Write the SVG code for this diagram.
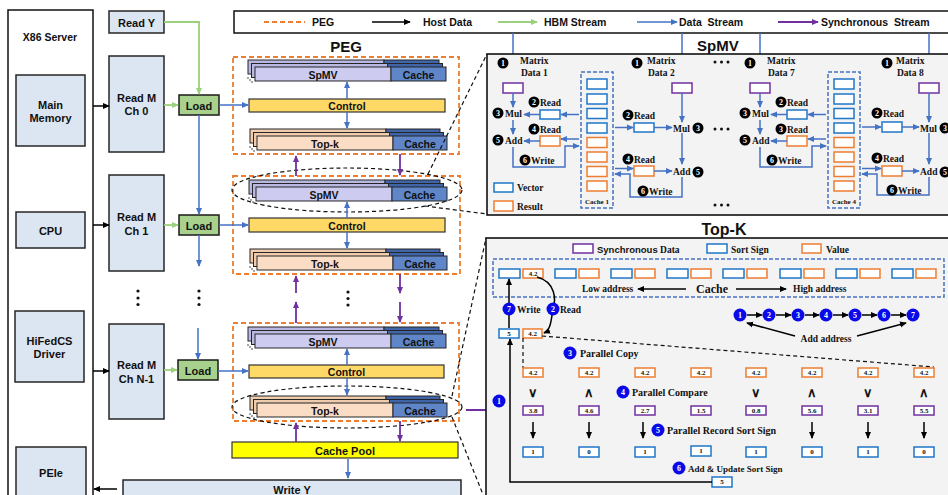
<svg xmlns="http://www.w3.org/2000/svg" width="948" height="495" viewBox="0 0 948 495">
  <defs>
    <style>
      .sans{font-family:"Liberation Sans",Arial,sans-serif;font-weight:bold;fill:#111}
      .ser{font-family:"Liberation Serif","Times New Roman",serif;font-weight:bold;fill:#111}
      .c{text-anchor:middle;dominant-baseline:central}
      .box{fill:#DCE6F2;stroke:#262626;stroke-width:1.5}
      .load{fill:#A9D18E;stroke:#1a1a1a;stroke-width:1.5}
      .peg{fill:none;stroke:#ED7D31;stroke-width:1.8;stroke-dasharray:5 3}
      .sp{fill:#CDCCF0;stroke:#262626;stroke-width:1}
      .spb{fill:#B9B8E2;stroke:#262626;stroke-width:1}
      .tk{fill:#FBDDC5;stroke:#262626;stroke-width:1}
      .tkb{fill:#F0CCAF;stroke:#262626;stroke-width:1}
      .ca{fill:#5F86C8;stroke:#262626;stroke-width:1}
      .cab{fill:#3F64A8;stroke:#262626;stroke-width:1}
      .ctrl{fill:#FFD966;stroke:#333;stroke-width:1.2}
      .pool{fill:#FFFF00;stroke:#333;stroke-width:1.2}
      .hd{stroke:#000;stroke-width:1.5;fill:none}
      .hbm{stroke:#9BD17B;stroke-width:1.8;fill:none}
      .ds{stroke:#4472C4;stroke-width:1.5;fill:none}
      .sy{stroke:#7030A0;stroke-width:1.8;fill:none}
      .dl{stroke:#111;stroke-width:1.2;fill:none;stroke-dasharray:4 3}
      .rb{fill:#fff;stroke:#1F77C8;stroke-width:1.5}
      .ro{fill:#fff;stroke:#ED7D31;stroke-width:1.5}
      .rp{fill:#fff;stroke:#7030A0;stroke-width:1.5}
      .cdash{fill:none;stroke:#4472C4;stroke-width:1.5;stroke-dasharray:4 2}
      .k{fill:#000}
      .bl{fill:#0A0AE8}
      .kn{font-family:"Liberation Serif",serif;font-weight:bold;font-size:8px;fill:#fff;text-anchor:middle;dominant-baseline:central}
      .st{font-family:"Liberation Serif","Times New Roman",serif;font-weight:bold;font-size:9.5px;fill:#111}
      .vt{font-family:"Liberation Serif","Times New Roman",serif;font-weight:bold;font-size:7px;fill:#111;text-anchor:middle;dominant-baseline:central}
      .panel{fill:#F3F3F3;stroke:#111;stroke-width:1.6}
    </style>
    <marker id="ak" viewBox="0 0 8 8" refX="7" refY="4" markerWidth="7" markerHeight="7" markerUnits="userSpaceOnUse" orient="auto"><path d="M0,0.5L8,4L0,7.5z" fill="#000"/></marker>
    <marker id="ag" viewBox="0 0 8 8" refX="7" refY="4" markerWidth="7" markerHeight="7" markerUnits="userSpaceOnUse" orient="auto"><path d="M0,0.5L8,4L0,7.5z" fill="#9BD17B"/></marker>
    <marker id="ab" viewBox="0 0 8 8" refX="7" refY="4" markerWidth="7" markerHeight="7" markerUnits="userSpaceOnUse" orient="auto"><path d="M0,0.5L8,4L0,7.5z" fill="#4472C4"/></marker>
    <marker id="ap" viewBox="0 0 8 8" refX="7" refY="4" markerWidth="7" markerHeight="7" markerUnits="userSpaceOnUse" orient="auto"><path d="M0,0.5L8,4L0,7.5z" fill="#7030A0"/></marker>
  </defs>

  <rect width="948" height="495" fill="#fff"/>

  <!-- legend -->
  <g id="legend">
    <rect x="234" y="11" width="720" height="22" fill="#fff" stroke="#111" stroke-width="1.5"/>
    <line class="peg" x1="264" y1="22" x2="305" y2="22"/>
    <text class="sans" x="312" y="25.5" font-size="10.5">PEG</text>
    <line class="hd" x1="372" y1="22" x2="410" y2="22" marker-end="url(#ak)"/>
    <text class="sans" x="423" y="25.5" font-size="10.5">Host Data</text>
    <line class="hbm" x1="498" y1="22" x2="537" y2="22" marker-end="url(#ag)"/>
    <text class="sans" x="544" y="25.5" font-size="10.5">HBM Stream</text>
    <line class="ds" x1="637" y1="22" x2="677" y2="22" marker-end="url(#ab)"/>
    <text class="sans" x="679" y="25.5" font-size="10.5" xml:space="preserve">Data  Stream</text>
    <line class="sy" x1="778" y1="22" x2="818" y2="22" marker-end="url(#ap)"/>
    <text class="sans" x="821" y="25.5" font-size="10.5" xml:space="preserve">Synchronous  Stream</text>
  </g>

  <!-- host side -->
  <g id="x86">
    <rect x="8" y="10" width="85" height="500" fill="#fff" stroke="#111" stroke-width="1.5"/>
    <text class="sans c" x="50" y="37" font-size="10.5">X86 Server</text>
  </g>
  <g id="main-memory">
    <rect class="box" x="16" y="75" width="69" height="71"/>
    <text class="sans c" x="50.5" y="104.5" font-size="11">Main</text>
    <text class="sans c" x="50.5" y="118" font-size="11">Memory</text>
  </g>
  <g id="cpu">
    <rect class="box" x="16" y="212" width="69" height="36"/>
    <text class="sans c" x="50.5" y="231" font-size="11">CPU</text>
  </g>
  <g id="driver">
    <rect class="box" x="15" y="311" width="69" height="71"/>
    <text class="sans c" x="49.5" y="341" font-size="11">HiFedCS</text>
    <text class="sans c" x="49.5" y="354" font-size="11">Driver</text>
  </g>
  <g id="peie">
    <rect class="box" x="16" y="447" width="70" height="60"/>
    <text class="sans c" x="51" y="473" font-size="11">PEIe</text>
  </g>

  <g id="read-y">
    <rect class="box" x="109" y="11" width="55" height="22"/>
    <text class="sans c" x="136.5" y="22.5" font-size="11">Read Y</text>
  </g>
  <g id="read-m0">
    <rect class="box" x="109" y="56" width="55" height="96"/>
    <text class="sans c" x="136.5" y="98" font-size="11">Read M</text>
    <text class="sans c" x="136.5" y="111" font-size="11">Ch 0</text>
  </g>
  <g id="read-m1">
    <rect class="box" x="109" y="175" width="55" height="96"/>
    <text class="sans c" x="136.5" y="217" font-size="11">Read M</text>
    <text class="sans c" x="136.5" y="231" font-size="11">Ch 1</text>
  </g>
  <g id="read-mn">
    <rect class="box" x="109" y="324" width="55" height="95"/>
    <text class="sans c" x="136.5" y="365" font-size="11">Read M</text>
    <text class="sans c" x="136.5" y="379" font-size="11">Ch N-1</text>
  </g>
  <g id="dots-left" fill="#111">
    <circle cx="138" cy="291" r="1.6"/><circle cx="138" cy="298" r="1.6"/><circle cx="138" cy="304.5" r="1.6"/>
    <circle cx="199" cy="291" r="1.6"/><circle cx="199" cy="298" r="1.6"/><circle cx="199" cy="304.5" r="1.6"/>
    <circle cx="348" cy="292" r="1.6"/><circle cx="348" cy="298.5" r="1.6"/><circle cx="348" cy="305" r="1.6"/>
  </g>

  <g id="load0"><rect class="load" x="179" y="95" width="40" height="20"/><text class="sans c" x="199" y="105.5" font-size="11">Load</text></g>
  <g id="load1"><rect class="load" x="179" y="215" width="40" height="20"/><text class="sans c" x="199" y="225.5" font-size="11">Load</text></g>
  <g id="loadn"><rect class="load" x="178" y="360" width="40" height="20"/><text class="sans c" x="198" y="370.5" font-size="11">Load</text></g>

  <!-- PEG 1 -->
  <g id="peg1">
    <text class="sans" x="346" y="52" font-size="15" text-anchor="middle">PEG</text>
    <rect class="peg" x="233" y="57" width="226" height="97"/>
    <rect class="spb" x="248" y="60" width="136" height="14"/><rect class="cab" x="384" y="60" width="55" height="14"/>
    <rect class="spb" x="251.5" y="63.5" width="136" height="14"/><rect class="cab" x="387.5" y="63.5" width="55" height="14"/>
    <rect class="sp" x="255" y="67" width="136" height="14"/><rect class="ca" x="391" y="67" width="55" height="14"/>
    <text class="sans c" x="323" y="74.5" font-size="10.5">SpMV</text>
    <text class="sans c" x="418.5" y="74.5" font-size="10.5">Cache</text>
    <rect class="ctrl" x="249" y="99" width="196" height="13"/>
    <text class="sans c" x="347" y="106" font-size="10.5">Control</text>
    <rect class="tkb" x="250" y="129" width="136" height="14"/><rect class="cab" x="386" y="129" width="54" height="14"/>
    <rect class="tkb" x="253.5" y="132.5" width="136" height="14"/><rect class="cab" x="389.5" y="132.5" width="54" height="14"/>
    <rect class="tk" x="257" y="136" width="136" height="14"/><rect class="ca" x="393" y="136" width="54" height="14"/>
    <text class="sans c" x="325" y="143.5" font-size="10.5">Top-k</text>
    <text class="sans c" x="420" y="143.5" font-size="10.5">Cache</text>
    <g fill="#333"><circle cx="248" cy="78" r="0.8"/><circle cx="250" cy="80" r="0.8"/><circle cx="252" cy="82" r="0.8"/>
    <circle cx="250" cy="147" r="0.8"/><circle cx="252" cy="149" r="0.8"/><circle cx="254" cy="151" r="0.8"/></g>
  </g>

  <!-- PEG 2 -->
  <g id="peg2">
    <rect class="peg" x="233" y="176" width="227" height="98"/>
    <rect class="spb" x="249" y="180" width="136" height="14"/><rect class="cab" x="385" y="180" width="55" height="14"/>
    <rect class="spb" x="252.5" y="183.5" width="136" height="14"/><rect class="cab" x="388.5" y="183.5" width="55" height="14"/>
    <rect class="sp" x="256" y="187" width="136" height="14"/><rect class="ca" x="392" y="187" width="55" height="14"/>
    <text class="sans c" x="324" y="194.5" font-size="10.5">SpMV</text>
    <text class="sans c" x="419.5" y="194.5" font-size="10.5">Cache</text>
    <rect class="ctrl" x="249" y="218" width="196" height="14"/>
    <text class="sans c" x="347" y="225.5" font-size="10.5">Control</text>
    <rect class="tkb" x="250" y="249" width="136" height="14"/><rect class="cab" x="386" y="249" width="54" height="14"/>
    <rect class="tkb" x="253.5" y="252.5" width="136" height="14"/><rect class="cab" x="389.5" y="252.5" width="54" height="14"/>
    <rect class="tk" x="257" y="256" width="136" height="14"/><rect class="ca" x="393" y="256" width="54" height="14"/>
    <text class="sans c" x="325" y="263.5" font-size="10.5">Top-k</text>
    <text class="sans c" x="420" y="263.5" font-size="10.5">Cache</text>
    <g fill="#333"><circle cx="249" cy="198" r="0.8"/><circle cx="251" cy="200" r="0.8"/><circle cx="253" cy="202" r="0.8"/>
    <circle cx="250" cy="267" r="0.8"/><circle cx="252" cy="269" r="0.8"/><circle cx="254" cy="271" r="0.8"/></g>
    <ellipse cx="347" cy="190" rx="115" ry="22" class="dl"/>
  </g>

  <!-- PEG N -->
  <g id="peg3">
    <rect class="peg" x="233" y="323" width="226" height="98"/>
    <rect class="spb" x="248" y="327" width="136" height="14"/><rect class="cab" x="384" y="327" width="55" height="14"/>
    <rect class="spb" x="251.5" y="330.5" width="136" height="14"/><rect class="cab" x="387.5" y="330.5" width="55" height="14"/>
    <rect class="sp" x="255" y="334" width="136" height="14"/><rect class="ca" x="391" y="334" width="55" height="14"/>
    <text class="sans c" x="323" y="341.5" font-size="10.5">SpMV</text>
    <text class="sans c" x="418.5" y="341.5" font-size="10.5">Cache</text>
    <rect class="ctrl" x="249" y="365" width="195" height="13"/>
    <text class="sans c" x="346.5" y="372" font-size="10.5">Control</text>
    <rect class="tkb" x="250" y="396" width="136" height="14"/><rect class="cab" x="386" y="396" width="54" height="14"/>
    <rect class="tkb" x="253.5" y="399.5" width="136" height="14"/><rect class="cab" x="389.5" y="399.5" width="54" height="14"/>
    <rect class="tk" x="257" y="403" width="136" height="14"/><rect class="ca" x="393" y="403" width="54" height="14"/>
    <text class="sans c" x="325" y="410.5" font-size="10.5">Top-k</text>
    <text class="sans c" x="420" y="410.5" font-size="10.5">Cache</text>
    <g fill="#333"><circle cx="248" cy="345" r="0.8"/><circle cx="250" cy="347" r="0.8"/><circle cx="252" cy="349" r="0.8"/>
    <circle cx="250" cy="414" r="0.8"/><circle cx="252" cy="416" r="0.8"/><circle cx="254" cy="418" r="0.8"/></g>
    <ellipse cx="347" cy="407" rx="115" ry="21" class="dl"/>
  </g>

  <g id="cache-pool">
    <rect class="pool" x="232" y="442" width="226" height="16"/>
    <text class="sans c" x="345" y="450.5" font-size="11">Cache Pool</text>
  </g>
  <g id="write-y">
    <rect class="box" x="123" y="480" width="338" height="30"/>
    <text class="sans c" x="292" y="490" font-size="11">Write Y</text>
  </g>

  <!-- connectors -->
  <g id="connectors">
    <line class="hd" x1="93" y1="106" x2="109" y2="106" marker-end="url(#ak)"/>
    <line class="hd" x1="93" y1="225" x2="109" y2="225" marker-end="url(#ak)"/>
    <line class="hd" x1="93" y1="371" x2="109" y2="371" marker-end="url(#ak)"/>
    <line class="hd" x1="117" y1="489" x2="94" y2="489" marker-end="url(#ak)"/>
    <path class="hbm" d="M164,22H199V94" marker-end="url(#ag)"/>
    <line class="hbm" x1="164" y1="105" x2="178" y2="105" marker-end="url(#ag)"/>
    <line class="hbm" x1="164" y1="225" x2="178" y2="225" marker-end="url(#ag)"/>
    <line class="hbm" x1="164" y1="370" x2="177" y2="370" marker-end="url(#ag)"/>
    <line class="ds" x1="199" y1="115" x2="199" y2="214" marker-end="url(#ab)"/>
    <line class="ds" x1="199" y1="235" x2="199" y2="266" marker-end="url(#ab)"/>
    <line class="ds" x1="198" y1="328" x2="198" y2="359" marker-end="url(#ab)"/>
    <line class="ds" x1="219" y1="105" x2="248" y2="105" marker-end="url(#ab)"/>
    <line class="ds" x1="219" y1="225" x2="248" y2="225" marker-end="url(#ab)"/>
    <line class="ds" x1="218" y1="371" x2="248" y2="371" marker-end="url(#ab)"/>
    <line class="ds" x1="347" y1="99" x2="347" y2="82" marker-end="url(#ab)"/>
    <line class="ds" x1="347" y1="112" x2="347" y2="128" marker-end="url(#ab)"/>
    <line class="ds" x1="347" y1="218" x2="347" y2="202" marker-end="url(#ab)"/>
    <line class="ds" x1="347" y1="232" x2="347" y2="248" marker-end="url(#ab)"/>
    <line class="ds" x1="347" y1="365" x2="347" y2="349" marker-end="url(#ab)"/>
    <line class="ds" x1="347" y1="378" x2="347" y2="395" marker-end="url(#ab)"/>
    <line class="ds" x1="348" y1="459" x2="348" y2="478" marker-end="url(#ab)"/>
    <line class="sy" x1="296" y1="176" x2="296" y2="156" marker-end="url(#ap)"/>
    <line class="sy" x1="400" y1="154" x2="400" y2="175" marker-end="url(#ap)"/>
    <line class="sy" x1="296" y1="293" x2="296" y2="276" marker-end="url(#ap)"/>
    <line class="sy" x1="400" y1="274" x2="400" y2="293" marker-end="url(#ap)"/>
    <line class="sy" x1="296" y1="323" x2="296" y2="302" marker-end="url(#ap)"/>
    <line class="sy" x1="400" y1="302" x2="400" y2="322" marker-end="url(#ap)"/>
    <line class="sy" x1="296" y1="442" x2="296" y2="423" marker-end="url(#ap)"/>
    <line class="sy" x1="400" y1="421" x2="400" y2="441" marker-end="url(#ap)"/>
    <line class="sy" x1="466" y1="410" x2="521" y2="410" marker-end="url(#ap)"/>
    <line class="dl" x1="428" y1="174" x2="487" y2="54"/>
    <line class="dl" x1="425" y1="206" x2="487" y2="214"/>
    <line class="dl" x1="452" y1="396" x2="486" y2="238"/>
    <line class="dl" x1="452" y1="417" x2="484" y2="497"/>
    <!-- matrix data inputs -->
    <line class="ds" x1="513" y1="33" x2="513" y2="73" marker-end="url(#ab)"/>
    <line class="ds" x1="682" y1="33" x2="682" y2="73" marker-end="url(#ab)"/>
    <line class="ds" x1="760" y1="33" x2="760" y2="73" marker-end="url(#ab)"/>
    <line class="ds" x1="929" y1="33" x2="929" y2="73" marker-end="url(#ab)"/>
  </g>

  <!-- SpMV panel -->
  <g id="spmv-panel">
    <rect class="panel" x="487" y="54" width="470" height="161"/>
    <text class="sans" x="697" y="51" font-size="15">SpMV</text>
    <g fill="#111">
      <circle cx="715" cy="62" r="1.5"/><circle cx="721.5" cy="62" r="1.5"/><circle cx="728" cy="62" r="1.5"/>
      <circle cx="715" cy="129" r="1.5"/><circle cx="721.5" cy="129" r="1.5"/><circle cx="728" cy="129" r="1.5"/>
      <circle cx="715" cy="205" r="1.5"/><circle cx="721.5" cy="205" r="1.5"/><circle cx="728" cy="205" r="1.5"/>
    </g>
    <rect class="rb" x="494" y="183" width="19" height="9"/>
    <text class="st" x="517" y="191">Vector</text>
    <rect class="ro" x="494" y="201" width="19" height="10"/>
    <text class="st" x="517" y="209.5">Result</text>
  </g>

  <g id="spmv-pair1">
    <circle class="k" cx="503" cy="63" r="5.5"/><text class="kn" x="503" y="63.5">1</text>
    <text class="st" x="520" y="64">Matrix</text><text class="st" x="521" y="75.5">Data 1</text>
    <rect class="rp" x="503" y="83" width="20" height="10"/>
    <line class="ds" x1="513" y1="93" x2="513" y2="107" marker-end="url(#ab)"/>
    <circle class="k" cx="498" cy="113" r="5.5"/><text class="kn" x="498" y="113.5">3</text>
    <text class="st" x="505" y="116.5">Mul</text>
    <circle class="k" cx="534" cy="102" r="5.5"/><text class="kn" x="534" y="102.5">2</text>
    <text class="st" x="540" y="105.5">Read</text>
    <rect class="rb" x="540" y="110" width="20" height="9"/>
    <line class="ds" x1="579" y1="114.5" x2="561" y2="114.5" marker-end="url(#ab)"/>
    <line class="ds" x1="540" y1="114.5" x2="524" y2="114.5" marker-end="url(#ab)"/>
    <line class="ds" x1="513" y1="120" x2="513" y2="134" marker-end="url(#ab)"/>
    <circle class="k" cx="534" cy="129" r="5.5"/><text class="kn" x="534" y="129.5">4</text>
    <text class="st" x="540" y="132.5">Read</text>
    <rect class="ro" x="540" y="136" width="20" height="10"/>
    <line class="ds" x1="579" y1="139" x2="561" y2="139" marker-end="url(#ab)"/>
    <line class="ds" x1="540" y1="141" x2="524" y2="141" marker-end="url(#ab)"/>
    <circle class="k" cx="498" cy="140" r="5.5"/><text class="kn" x="498" y="140.5">5</text>
    <text class="st" x="505" y="143.5">Add</text>
    <path class="ds" d="M513,147V167H565V146H579" marker-end="url(#ab)"/>
    <circle class="k" cx="525" cy="160" r="5.5"/><text class="kn" x="525" y="160.5">6</text>
    <text class="st" x="531" y="164">Write</text>
    <rect class="cdash" x="581" y="72" width="32" height="136"/>
    <rect class="rb" x="587" y="79" width="20" height="10"/>
    <rect class="rb" x="587" y="94" width="20" height="10"/>
    <rect class="rb" x="587" y="108.5" width="20" height="10"/>
    <rect class="rb" x="587" y="123" width="20" height="10"/>
    <rect class="ro" x="587" y="137.5" width="20" height="10"/>
    <rect class="ro" x="587" y="152" width="20" height="10"/>
    <rect class="ro" x="587" y="166.5" width="20" height="10"/>
    <rect class="ro" x="587" y="181" width="20" height="10"/>
    <text class="ser" x="597" y="204" font-size="7" text-anchor="middle">Cache 1</text>
    <circle class="k" cx="637" cy="63" r="5.5"/><text class="kn" x="637" y="63.5">1</text>
    <text class="st" x="647" y="64">Matrix</text><text class="st" x="648" y="75.5">Data 2</text>
    <rect class="rp" x="672" y="83" width="20" height="10"/>
    <line class="ds" x1="682" y1="93" x2="682" y2="122" marker-end="url(#ab)"/>
    <text class="st" x="673" y="131.5">Mul</text>
    <circle class="k" cx="698" cy="128" r="5.5"/><text class="kn" x="698" y="128.5">3</text>
    <circle class="k" cx="628" cy="115" r="5.5"/><text class="kn" x="628" y="115.5">2</text>
    <text class="st" x="634" y="119">Read</text>
    <rect class="rb" x="634" y="123" width="20" height="9"/>
    <line class="ds" x1="615" y1="127.5" x2="633" y2="127.5" marker-end="url(#ab)"/>
    <line class="ds" x1="654" y1="127.5" x2="672" y2="127.5" marker-end="url(#ab)"/>
    <line class="ds" x1="682" y1="133" x2="682" y2="164" marker-end="url(#ab)"/>
    <circle class="k" cx="628" cy="159" r="5.5"/><text class="kn" x="628" y="159.5">4</text>
    <text class="st" x="634" y="163">Read</text>
    <rect class="ro" x="634" y="166" width="20" height="10"/>
    <line class="ds" x1="615" y1="168.5" x2="633" y2="168.5" marker-end="url(#ab)"/>
    <line class="ds" x1="654" y1="171" x2="672" y2="171" marker-end="url(#ab)"/>
    <text class="st" x="673" y="175">Add</text>
    <circle class="k" cx="698" cy="172" r="5.5"/><text class="kn" x="698" y="172.5">5</text>
    <path class="ds" d="M682,177V197H630V174H615" marker-end="url(#ab)"/>
    <circle class="k" cx="643" cy="191" r="5.5"/><text class="kn" x="643" y="191.5">6</text>
    <text class="st" x="649" y="195">Write</text>
  </g>

  <g id="spmv-pair4" transform="translate(247,0)">
    <circle class="k" cx="503" cy="63" r="5.5"/><text class="kn" x="503" y="63.5">1</text>
    <text class="st" x="520" y="64">Matrix</text><text class="st" x="521" y="75.5">Data 7</text>
    <rect class="rp" x="503" y="83" width="20" height="10"/>
    <line class="ds" x1="513" y1="93" x2="513" y2="107" marker-end="url(#ab)"/>
    <circle class="k" cx="498" cy="113" r="5.5"/><text class="kn" x="498" y="113.5">3</text>
    <text class="st" x="505" y="116.5">Mul</text>
    <circle class="k" cx="534" cy="102" r="5.5"/><text class="kn" x="534" y="102.5">2</text>
    <text class="st" x="540" y="105.5">Read</text>
    <rect class="rb" x="540" y="110" width="20" height="9"/>
    <line class="ds" x1="579" y1="114.5" x2="561" y2="114.5" marker-end="url(#ab)"/>
    <line class="ds" x1="540" y1="114.5" x2="524" y2="114.5" marker-end="url(#ab)"/>
    <line class="ds" x1="513" y1="120" x2="513" y2="134" marker-end="url(#ab)"/>
    <circle class="k" cx="534" cy="129" r="5.5"/><text class="kn" x="534" y="129.5">3</text>
    <text class="st" x="540" y="132.5">Read</text>
    <rect class="ro" x="540" y="136" width="20" height="10"/>
    <line class="ds" x1="579" y1="139" x2="561" y2="139" marker-end="url(#ab)"/>
    <line class="ds" x1="540" y1="141" x2="524" y2="141" marker-end="url(#ab)"/>
    <circle class="k" cx="498" cy="140" r="5.5"/><text class="kn" x="498" y="140.5">5</text>
    <text class="st" x="505" y="143.5">Add</text>
    <path class="ds" d="M513,147V167H565V146H579" marker-end="url(#ab)"/>
    <circle class="k" cx="525" cy="160" r="5.5"/><text class="kn" x="525" y="160.5">6</text>
    <text class="st" x="531" y="164">Write</text>
    <rect class="cdash" x="581" y="72" width="32" height="136"/>
    <rect class="rb" x="587" y="79" width="20" height="10"/>
    <rect class="rb" x="587" y="94" width="20" height="10"/>
    <rect class="rb" x="587" y="108.5" width="20" height="10"/>
    <rect class="rb" x="587" y="123" width="20" height="10"/>
    <rect class="ro" x="587" y="137.5" width="20" height="10"/>
    <rect class="ro" x="587" y="152" width="20" height="10"/>
    <rect class="ro" x="587" y="166.5" width="20" height="10"/>
    <rect class="ro" x="587" y="181" width="20" height="10"/>
    <text class="ser" x="597" y="204" font-size="7" text-anchor="middle">Cache 4</text>
    <circle class="k" cx="640" cy="63" r="5.5"/><text class="kn" x="640" y="63.5">1</text>
    <text class="st" x="649" y="64">Matrix</text><text class="st" x="650" y="75.5">Data 8</text>
    <rect class="rp" x="672" y="83" width="20" height="10"/>
    <line class="ds" x1="682" y1="93" x2="682" y2="122" marker-end="url(#ab)"/>
    <text class="st" x="673" y="131.5">Mul</text>
    <circle class="k" cx="698" cy="128" r="5.5"/><text class="kn" x="698" y="128.5">3</text>
    <circle class="k" cx="630" cy="113" r="5.5"/><text class="kn" x="630" y="113.5">2</text>
    <text class="st" x="636" y="117">Read</text>
    <rect class="rb" x="635" y="122" width="20" height="10"/>
    <line class="ds" x1="615" y1="127" x2="634" y2="127" marker-end="url(#ab)"/>
    <line class="ds" x1="655" y1="127" x2="672" y2="127" marker-end="url(#ab)"/>
    <line class="ds" x1="682" y1="133" x2="682" y2="164" marker-end="url(#ab)"/>
    <circle class="k" cx="630" cy="158" r="5.5"/><text class="kn" x="630" y="158.5">4</text>
    <text class="st" x="636" y="162">Read</text>
    <rect class="ro" x="635" y="166" width="20" height="10"/>
    <line class="ds" x1="615" y1="168.5" x2="634" y2="168.5" marker-end="url(#ab)"/>
    <line class="ds" x1="655" y1="171" x2="672" y2="171" marker-end="url(#ab)"/>
    <text class="st" x="673" y="175">Add</text>
    <circle class="k" cx="698" cy="172" r="5.5"/><text class="kn" x="698" y="172.5">5</text>
    <path class="ds" d="M682,177V195H630V174H615" marker-end="url(#ab)"/>
    <circle class="k" cx="645" cy="190" r="5.5"/><text class="kn" x="645" y="190.5">6</text>
    <text class="st" x="651" y="194">Write</text>
  </g>

  <!-- Top-K panel -->
  <g id="topk-panel">
    <text class="sans" x="724" y="235" font-size="16" text-anchor="middle">Top-K</text>
    <rect class="panel" x="486" y="238" width="470" height="270"/>
    <rect class="rp" x="573" y="244" width="20" height="9"/>
    <text x="597" y="252.5" font-size="9.5"><tspan class="sans">Synchronous</tspan><tspan class="ser"> Data</tspan></text>
    <rect class="rb" x="707" y="244" width="20" height="9"/>
    <text class="st" x="731" y="252.5">Sort Sign</text>
    <rect class="ro" x="802" y="244" width="19" height="9"/>
    <text class="st" x="826" y="252.5">Value</text>
  </g>

  <g id="topk-cache">
    <rect class="cdash" x="493" y="259" width="451" height="38" stroke-dasharray="5 3"/>
    <rect class="rb" x="499" y="269" width="21" height="9"/><rect class="ro" x="523" y="269" width="20" height="9"/>
    <text class="vt" x="533" y="273.5">4.2</text>
    <rect class="rb" x="555" y="269" width="21" height="9"/><rect class="ro" x="579" y="269" width="20" height="9"/>
    <rect class="rb" x="611" y="269" width="21" height="9"/><rect class="ro" x="635" y="269" width="20" height="9"/>
    <rect class="rb" x="667" y="269" width="21" height="9"/><rect class="ro" x="691" y="269" width="20" height="9"/>
    <rect class="rb" x="723" y="269" width="21" height="9"/><rect class="ro" x="747" y="269" width="20" height="9"/>
    <rect class="rb" x="780" y="269" width="21" height="9"/><rect class="ro" x="804" y="269" width="20" height="9"/>
    <rect class="rb" x="836" y="269" width="21" height="9"/><rect class="ro" x="860" y="269" width="20" height="9"/>
    <rect class="rb" x="892" y="269" width="21" height="9"/><rect class="ro" x="916" y="269" width="20" height="9"/>
    <text class="st" x="582" y="292">Low address</text>
    <line class="hd" x1="686" y1="289" x2="638" y2="289" marker-end="url(#ak)"/>
    <text class="ser" x="712" y="292.5" font-size="12" text-anchor="middle">Cache</text>
    <line class="hd" x1="736" y1="289" x2="786" y2="289" marker-end="url(#ak)"/>
    <text class="st" x="793" y="292">High address</text>
  </g>

  <g id="topk-order">
    <circle class="bl" cx="740" cy="315" r="6.5"/><text class="kn" x="740" y="315.5">1</text>
    <circle class="bl" cx="769" cy="315" r="6.5"/><text class="kn" x="769" y="315.5">2</text>
    <circle class="bl" cx="798" cy="315" r="6.5"/><text class="kn" x="798" y="315.5">3</text>
    <circle class="bl" cx="826" cy="315" r="6.5"/><text class="kn" x="826" y="315.5">4</text>
    <circle class="bl" cx="855" cy="315" r="6.5"/><text class="kn" x="855" y="315.5">5</text>
    <circle class="bl" cx="884" cy="315" r="6.5"/><text class="kn" x="884" y="315.5">6</text>
    <circle class="bl" cx="913" cy="315" r="6.5"/><text class="kn" x="913" y="315.5">7</text>
    <line class="hd" x1="747" y1="315" x2="762" y2="315" marker-end="url(#ak)"/>
    <line class="hd" x1="776" y1="315" x2="791" y2="315" marker-end="url(#ak)"/>
    <line class="hd" x1="805" y1="315" x2="819" y2="315" marker-end="url(#ak)"/>
    <line class="hd" x1="833" y1="315" x2="848" y2="315" marker-end="url(#ak)"/>
    <line class="hd" x1="862" y1="315" x2="877" y2="315" marker-end="url(#ak)"/>
    <line class="hd" x1="891" y1="315" x2="906" y2="315" marker-end="url(#ak)"/>
    <text class="st" x="826" y="341.5" text-anchor="middle">Add address</text>
    <line class="hd" x1="795" y1="336" x2="747" y2="323" marker-end="url(#ak)"/>
    <line class="hd" x1="857" y1="336" x2="906" y2="323" marker-end="url(#ak)"/>
  </g>

  <g id="topk-steps">
    <line class="hd" x1="509" y1="328" x2="509" y2="279" marker-end="url(#ak)"/>
    <path class="hd" d="M537,277C556,282 556,300 553,309C551,320 551,330 544,333" marker-end="url(#ak)"/>
    <circle class="bl" cx="509" cy="309" r="6.5"/><text class="kn" x="509" y="309.5">7</text>
    <text class="st" x="517" y="312.5">Write</text>
    <circle class="bl" cx="553" cy="309" r="6.5"/><text class="kn" x="553" y="309.5">2</text>
    <text class="st" x="560" y="312.5">Read</text>
    <rect class="rb" x="499" y="329" width="20" height="9"/><text class="vt" x="509" y="333.5">5</text>
    <rect class="ro" x="523" y="329" width="19" height="9"/><text class="vt" x="532.5" y="333.5">4.2</text>
    <path class="dl" d="M523,338V368M542,336L934,367"/>
    <circle class="bl" cx="570" cy="353" r="6.5"/><text class="kn" x="570" y="353.5">3</text>
    <text class="ser" x="580" y="357" font-size="10">Parallel Copy</text>

    <rect class="ro" x="523" y="368" width="20" height="9"/><text class="vt" x="533" y="372.5">4.2</text>
    <rect class="ro" x="579" y="368" width="20" height="9"/><text class="vt" x="589" y="372.5">4.2</text>
    <rect class="ro" x="635" y="368" width="20" height="9"/><text class="vt" x="645" y="372.5">4.2</text>
    <rect class="ro" x="691" y="368" width="20" height="9"/><text class="vt" x="701" y="372.5">4.2</text>
    <rect class="ro" x="746" y="368" width="20" height="9"/><text class="vt" x="756" y="372.5">4.2</text>
    <rect class="ro" x="802" y="368" width="20" height="9"/><text class="vt" x="812" y="372.5">4.2</text>
    <rect class="ro" x="858" y="368" width="20" height="9"/><text class="vt" x="868" y="372.5">4.2</text>
    <rect class="ro" x="914" y="368" width="20" height="9"/><text class="vt" x="924" y="372.5">4.2</text>

    <g class="sans" font-size="13" font-weight="normal" text-anchor="middle">
      <text x="533" y="397">∨</text><text x="589" y="397">∧</text>
      <text x="756" y="397">∨</text><text x="812" y="397">∧</text>
      <text x="868" y="397">∨</text><text x="924" y="397">∧</text>
    </g>
    <circle class="bl" cx="623" cy="392" r="6.5"/><text class="kn" x="623" y="392.5">4</text>
    <text class="ser" x="632" y="396" font-size="10">Parallel Compare</text>

    <circle class="bl" cx="499" cy="401" r="6.5"/><text class="kn" x="499" y="401.5">1</text>
    <rect class="rp" x="523" y="406" width="20" height="9"/><text class="vt" x="533" y="410.5">3.8</text>
    <rect class="rp" x="579" y="406" width="20" height="9"/><text class="vt" x="589" y="410.5">4.6</text>
    <rect class="rp" x="635" y="406" width="20" height="9"/><text class="vt" x="645" y="410.5">2.7</text>
    <rect class="rp" x="691" y="406" width="20" height="9"/><text class="vt" x="701" y="410.5">1.5</text>
    <rect class="rp" x="746" y="406" width="20" height="9"/><text class="vt" x="756" y="410.5">0.8</text>
    <rect class="rp" x="802" y="406" width="20" height="9"/><text class="vt" x="812" y="410.5">5.6</text>
    <rect class="rp" x="858" y="406" width="20" height="9"/><text class="vt" x="868" y="410.5">3.1</text>
    <rect class="rp" x="914" y="406" width="20" height="9"/><text class="vt" x="924" y="410.5">5.5</text>

    <line class="hd" x1="533" y1="422" x2="533" y2="438" marker-end="url(#ak)"/>
    <line class="hd" x1="589" y1="422" x2="589" y2="438" marker-end="url(#ak)"/>
    <line class="hd" x1="643" y1="422" x2="643" y2="438" marker-end="url(#ak)"/>
    <line class="hd" x1="812" y1="422" x2="812" y2="438" marker-end="url(#ak)"/>
    <line class="hd" x1="868" y1="422" x2="868" y2="438" marker-end="url(#ak)"/>
    <line class="hd" x1="924" y1="422" x2="924" y2="438" marker-end="url(#ak)"/>
    <circle class="bl" cx="658" cy="430" r="6.5"/><text class="kn" x="658" y="430.5">5</text>
    <text class="ser" x="667" y="434" font-size="10">Parallel Record Sort Sign</text>

    <rect class="rb" x="523" y="447" width="20" height="10"/><text class="vt" x="533" y="452">1</text>
    <rect class="rb" x="579" y="447" width="20" height="10"/><text class="vt" x="589" y="452">0</text>
    <rect class="rb" x="635" y="447" width="20" height="10"/><text class="vt" x="645" y="452">1</text>
    <rect class="rb" x="691" y="446" width="20" height="10"/><text class="vt" x="701" y="451">1</text>
    <rect class="rb" x="746" y="447" width="20" height="10"/><text class="vt" x="756" y="452">1</text>
    <rect class="rb" x="802" y="447" width="20" height="10"/><text class="vt" x="812" y="452">0</text>
    <rect class="rb" x="858" y="447" width="20" height="10"/><text class="vt" x="868" y="452">1</text>
    <rect class="rb" x="914" y="447" width="20" height="10"/><text class="vt" x="924" y="452">0</text>

    <circle class="bl" cx="679" cy="468" r="6.5"/><text class="kn" x="679" y="468.5">6</text>
    <text class="ser" x="688" y="471.5" font-size="9">Add &amp; Update Sort Sign</text>
    <rect class="rb" x="712" y="477" width="20" height="10"/><text class="vt" x="722" y="482">5</text>
    <path class="hd" d="M712,482H510V339" marker-end="url(#ak)"/>
  </g>
</svg>
